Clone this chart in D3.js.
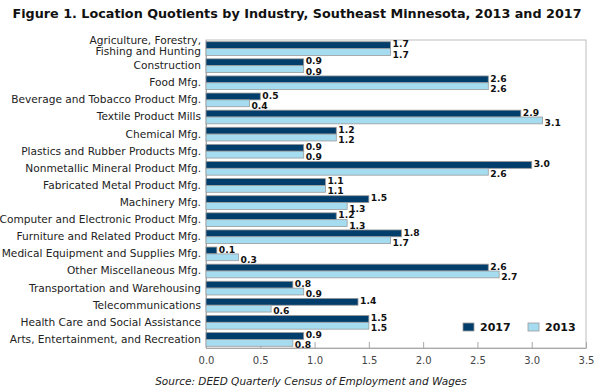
<!DOCTYPE html>
<html>
<head>
<meta charset="utf-8">
<script src="https://cdn.jsdelivr.net/npm/d3@7"></script>
<style>
  body { margin: 0; background: #fff; }
  svg { display: block; }
</style>
</head>
<body>
<svg id="chart" width="594" height="390"></svg>
<script>
const categories = [
  "Agriculture, Forestry,|Fishing and Hunting",
  "Construction",
  "Food Mfg.",
  "Beverage and Tobacco Product Mfg.",
  "Textile Product Mills",
  "Chemical Mfg.",
  "Plastics and Rubber Products Mfg.",
  "Nonmetallic Mineral Product Mfg.",
  "Fabricated Metal Product Mfg.",
  "Machinery Mfg.",
  "Computer and Electronic Product Mfg.",
  "Furniture and Related Product Mfg.",
  "Medical Equipment and Supplies Mfg.",
  "Other Miscellaneous Mfg.",
  "Transportation and Warehousing",
  "Telecommunications",
  "Health Care and Social Assistance",
  "Arts, Entertainment, and Recreation"
];
const values2017 = [1.7, 0.9, 2.6, 0.5, 2.9, 1.2, 0.9, 3.0, 1.1, 1.5, 1.2, 1.8, 0.1, 2.6, 0.8, 1.4, 1.5, 0.9];
const values2013 = [1.7, 0.9, 2.6, 0.4, 3.1, 1.2, 0.9, 2.6, 1.1, 1.3, 1.3, 1.7, 0.3, 2.7, 0.9, 0.6, 1.5, 0.8];
const seriesNames = ["2017", "2013"];
const xTicks = [0, 0.5, 1.0, 1.5, 2.0, 2.5, 3.0, 3.5];
const titleText = "Figure 1. Location Quotients by Industry, Southeast Minnesota, 2013 and 2017";
const sourceText = "Source: DEED Quarterly Census of Employment and Wages";

const colors = { "2017": "#023e6b", "2013": "#a6dcf0" };
const svg = d3.select("#chart");
const margin = { left: 206, right: 8, top: 40, bottom: 42 };
const W = 594, H = 390;
const x = d3.scaleLinear().domain([0, 3.5]).range([margin.left, W - margin.right]);
const y = d3.scaleBand().domain(categories).range([margin.top, H - margin.bottom]).paddingInner(0.2).paddingOuter(0.1);
const ySub = d3.scaleBand().domain(seriesNames).range([0, y.bandwidth()]);

const font = "'DejaVu Sans', Verdana, sans-serif";

// title (font size fitted to the reference width)
const title = svg.append("text").attr("x", 297).attr("y", 18).attr("text-anchor", "middle")
  .attr("font-family", font).attr("font-weight", "bold").attr("font-size", 13.5)
  .attr("fill", "#111").text(titleText);
const tw = title.node().getComputedTextLength();
if (tw > 570) title.attr("font-size", 13.5 * 570 / tw);

// plot frame
svg.append("rect").attr("x", x(0)).attr("y", margin.top)
  .attr("width", x(3.5) - x(0)).attr("height", H - margin.bottom - margin.top)
  .attr("fill", "none").attr("stroke", "#bdbdbd").attr("stroke-width", 1);

// x axis
const xAxis = d3.axisBottom(x).tickValues(xTicks).tickFormat(d3.format(".1f")).tickSizeInner(-6).tickSizeOuter(0).tickPadding(9);
const gx = svg.append("g").attr("transform", `translate(0,${H - margin.bottom})`).call(xAxis);
gx.select(".domain").attr("stroke", "#a8a8a8");
gx.selectAll(".tick line").attr("stroke", "#a8a8a8");
gx.selectAll(".tick text").attr("font-family", font).attr("font-size", 10).attr("fill", "#444");

// y labels
const yAxis = d3.axisLeft(y).tickSize(0).tickPadding(5).tickFormat(() => "");
const gy = svg.append("g").attr("transform", `translate(${x(0)},0)`).call(yAxis);
gy.select(".domain").attr("stroke", "#a8a8a8");
gy.selectAll(".tick").each(function(d) {
  const lines = d.split("|");
  const t = d3.select(this).select("text").text(null)
    .attr("font-family", font).attr("font-size", 10.6).attr("fill", "#222")
    .attr("x", -5).attr("text-anchor", "end");
  lines.forEach((ln, i) => {
    t.append("tspan").attr("x", -5)
      .attr("dy", i === 0 ? (lines.length > 1 ? "-0.4em" : "0.32em") : "1.0em")
      .text(ln);
  });
});

// bars
const data = [];
categories.forEach((c, i) => {
  data.push({ cat: c, series: "2017", v: values2017[i] });
  data.push({ cat: c, series: "2013", v: values2013[i] });
});
svg.append("g").selectAll("rect").data(data).join("rect")
  .attr("x", x(0))
  .attr("y", d => y(d.cat) + ySub(d.series))
  .attr("width", d => x(d.v) - x(0))
  .attr("height", ySub.bandwidth())
  .attr("fill", d => colors[d.series])
  .attr("stroke", "#9a9a9a").attr("stroke-width", 0.8);

// value labels
svg.append("g").selectAll("text").data(data).join("text")
  .attr("x", d => x(d.v) + 2)
  .attr("y", d => y(d.cat) + ySub(d.series) + ySub.bandwidth() / 2 + (d.series === "2017" ? 2.2 : 5.6))
  .attr("font-family", font).attr("font-weight", "bold").attr("font-size", 9.2)
  .attr("fill", "#111")
  .text(d => d3.format(".1f")(d.v));

// legend
const legend = svg.append("g");
const lx = [463, 528];
seriesNames.forEach((s, i) => {
  legend.append("rect").attr("x", lx[i]).attr("y", 323).attr("width", 11).attr("height", 8)
    .attr("fill", colors[s]).attr("stroke", "#9a9a9a").attr("stroke-width", 0.8);
  legend.append("text").attr("x", lx[i] + 17).attr("y", 331)
    .attr("font-family", font).attr("font-weight", "bold").attr("font-size", 11).attr("fill", "#111")
    .text(s);
});

// source
svg.append("text").attr("x", 311).attr("y", 385).attr("text-anchor", "middle")
  .attr("font-family", font).attr("font-style", "italic").attr("font-size", 10.5).attr("fill", "#222")
  .text(sourceText);
</script>
</body>
</html>
